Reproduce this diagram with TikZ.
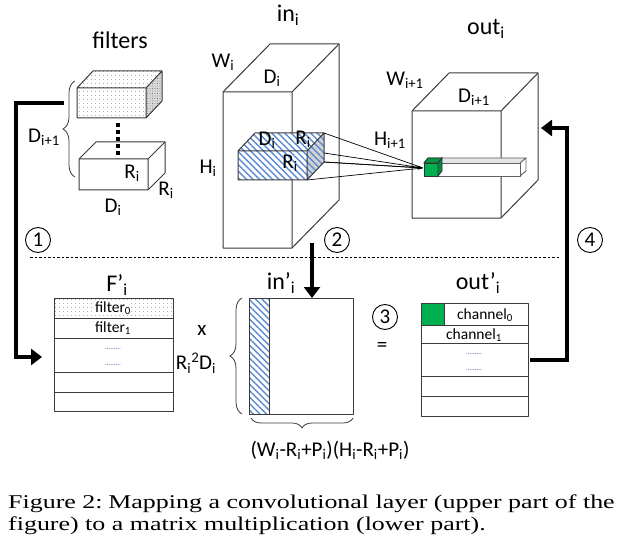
\documentclass[tikz,border=0pt]{standalone}
\usepackage{fontspec}
\setmainfont{Carlito}
\newfontfamily\capfont[FakeStretch=1.33]{Liberation Serif}
\usetikzlibrary{arrows.meta,patterns.meta,decorations.pathreplacing}
\definecolor{hatchblue}{HTML}{5B8BD0}
\definecolor{cubegreen}{HTML}{00B050}
\definecolor{edgecol}{HTML}{3A3A3A}
\definecolor{dotblue}{HTML}{2F4FA8}
\begin{document}
\begin{tikzpicture}[x=1pt,y=-1pt,
  lab/.style={font=\fontsize{21}{21}\selectfont, inner sep=0pt},
  ttl/.style={font=\fontsize{24}{24}\selectfont, inner sep=0pt},
  cell/.style={font=\fontsize{15.5}{15.5}\selectfont, inner sep=0pt},
  dotsnode/.style={font=\fontsize{7}{7}\selectfont, text=dotblue, inner sep=0pt},
  boxline/.style={draw=edgecol, line width=1pt, line join=round},
  hatch/.style={pattern={Lines[angle=-45,distance=4.6pt,line width=1.4pt]}, pattern color=hatchblue},
  dotfill/.style={pattern={Dots[distance=4pt,radius=0.45pt]}, pattern color=black!75},
  bigarrow/.style={line width=4pt, line join=miter, -{Triangle[length=11pt,width=16pt]}},
  circnum/.style={draw, circle, line width=0.9pt, minimum size=25pt, inner sep=0pt, font=\fontsize{21}{21}\selectfont},
  bracestyle/.style={draw=edgecol, line width=0.8pt, decorate},
  capt/.style={font=\capfont\fontsize{19.5}{19.5}\selectfont, inner sep=0pt, anchor=base west}
]
\useasboundingbox (0,0) rectangle (625,551);
\fill[white] (0,0) rectangle (625,551);

% ---------------- filters ----------------
\node[ttl] (tfilters) at (120,40) {filters};
% top dotted box
\fill[white] (77,88) -- (93,71) -- (162,71) -- (162,101) -- (146,118) -- (77,118) -- cycle;
\fill[dotfill] (77,88) rectangle (146,118);
\fill[dotfill] (77,88) -- (93,71) -- (162,71) -- (146,88) -- cycle;
\fill[gray!30] (146,88) -- (162,71) -- (162,101) -- (146,118) -- cycle;
\fill[pattern={Dots[distance=2.5pt,radius=0.45pt]}, pattern color=black!70] (146,88) -- (162,71) -- (162,101) -- (146,118) -- cycle;
\draw[boxline] (77,88) rectangle (146,118) (77,88) -- (93,71) -- (162,71) -- (146,88) (162,71) -- (162,101) -- (146,118);
% bottom box
\draw[boxline, fill=white] (79,159) -- (96,142) -- (165,142) -- (165,173) -- (148,190) -- (79,190) -- cycle;
\draw[boxline] (79,159) -- (148,159) -- (165,142) (148,159) -- (148,190);
% dots between
\coordinate (dtop) at (118,123);
\coordinate (dbot) at (118,158);
\draw[line width=3.2pt, dash pattern=on 4pt off 3pt] (dtop) -- (dbot);
\node[lab] (fr1) at (132,173) {R\textsubscript{i}};
\node[lab] (fr2) at (166,190) {R\textsubscript{i}};
\node[lab] (fd) at (113,207) {D\textsubscript{i}};
% brace
\coordinate (fbb) at (75,177);
\coordinate (fbt) at (75,81);
\draw[bracestyle, decoration={brace, amplitude=12pt}] (fbb) -- (fbt);
\node[lab] (fdi1) at (44,137) {D\textsubscript{i+1}};

% ---------------- in_i ----------------
\node[ttl] (tin) at (288,15) {in\textsubscript{i}};
\draw[boxline, fill=white] (223,92) -- (270,44) -- (339,44) -- (339,200) -- (292,248) -- (223,248) -- cycle;
\draw[boxline] (223,92) -- (292,92) -- (339,44) (292,92) -- (292,248);
\node[lab] (lwi) at (223,62) {W\textsubscript{i}};
\node[lab] (ldi) at (272,78) {D\textsubscript{i}};
\node[lab] (lhi) at (208,168) {H\textsubscript{i}};
% hatched sub-box
\fill[white] (238,151) -- (255,133) -- (324,133) -- (324,162) -- (307,180) -- (238,180) -- cycle;
\fill[hatch] (238,151) rectangle (307,180);
\fill[hatch] (238,151) -- (255,133) -- (324,133) -- (307,151) -- cycle;
\fill[gray!35] (307,151) -- (324,133) -- (324,162) -- (307,180) -- cycle;
\fill[hatch] (307,151) -- (324,133) -- (324,162) -- (307,180) -- cycle;
\draw[boxline] (238,151) rectangle (307,180) (238,151) -- (255,133) -- (324,133) -- (307,151) (324,133) -- (324,162) -- (307,180);
\node[lab] (hd) at (267,140) {D\textsubscript{i}};
\node[lab] (hr1) at (303,139) {R\textsubscript{i}};
\node[lab] (hr2) at (290,163) {R\textsubscript{i}};

% ---------------- out_i ----------------
\node[ttl] (tout) at (486,29) {out\textsubscript{i}};
\draw[boxline, fill=white] (412,111) -- (449,73) -- (538,73) -- (538,180) -- (501,218) -- (412,218) -- cycle;
\draw[boxline] (412,111) -- (501,111) -- (538,73) (501,111) -- (501,218);
\node[lab] (lwo) at (405,80) {W\textsubscript{i+1}};
\node[lab] (ldo) at (474,97) {D\textsubscript{i+1}};
\node[lab] (lho) at (390,140) {H\textsubscript{i+1}};
% bar
\fill[gray!20] (428,158) -- (526,158) -- (520,163) -- (424,163) -- cycle;
\draw[draw=edgecol!80, line width=0.9pt, fill=white] (424,163) rectangle (520,176);
\draw[draw=edgecol!80, line width=0.9pt] (424,163) -- (428,158) -- (526,158) -- (520,163) (526,158) -- (526,171) -- (520,176);
% green cube
\draw[draw=black!80, line width=0.8pt, fill=cubegreen] (424,163) rectangle (438,176);
\draw[draw=black!80, line width=0.8pt, fill=cubegreen!85!black] (424,163) -- (428,158) -- (442,158) -- (438,163) -- cycle;
\draw[draw=black!80, line width=0.8pt, fill=cubegreen!80!black] (438,163) -- (442,158) -- (442,171) -- (438,176) -- cycle;
\coordinate (cubein) at (423,168);
% projection lines
\coordinate (p1) at (324,133);
\coordinate (p2) at (324,153);
\coordinate (p3) at (324,162);
\coordinate (p4) at (307,180);
\draw[line width=0.7pt] (p1) -- (cubein) (p2) -- (cubein) (p3) -- (cubein) (p4) -- (cubein);
\draw[line width=0.7pt, -{Stealth[length=5pt,width=4pt]}] (p3) -- (cubein);

% ---------------- dashed separator and step numbers ----------------
\coordinate (sepl) at (30,257);
\coordinate (sepr) at (560,257);
\draw[line width=0.7pt, dash pattern=on 2.5pt off 2pt] (sepl) -- (sepr);
\node[circnum] (n1) at (38,240) {1};
\node[circnum] (n2) at (337,240) {2};
\node[circnum] (n3) at (385,317) {3};
\node[circnum] (n4) at (590,240) {4};

% ---------------- F'_i matrix ----------------
\node[ttl] (tfp) at (117,285) {F’\textsubscript{i}};
\fill[dotfill] (54,298) rectangle (173,318);
\draw[boxline] (54,298) rectangle (173,411);
\draw[boxline] (54,318) -- (173,318) (54,338) -- (173,338) (54,372) -- (173,372) (54,392) -- (173,392);
\node[cell, fill=white, inner sep=0.5pt] (f0) at (113,308) {filter\textsubscript{0}};
\node[cell] (f1) at (113,328) {filter\textsubscript{1}};
\node[dotsnode] (fd1) at (113,349) {.........};
\node[dotsnode] (fd2) at (113,365) {.........};
\coordinate (fpleft) at (42,357);
\node[lab] (xsym) at (202,330) {x};
\node[lab] (rrd) at (196,363) {R\textsubscript{i}\textsuperscript{2}D\textsubscript{i}};

% ---------------- in'_i matrix ----------------
\node[ttl] (tinp) at (281,283) {in’\textsubscript{i}};
\fill[white] (249,298) rectangle (353,414);
\fill[hatch] (249,298) rectangle (269,414);
\draw[boxline] (249,298) rectangle (353,414) (269,298) -- (269,414);
\coordinate (ibb) at (242,414);
\coordinate (ibt) at (242,298);
\draw[bracestyle, decoration={brace, amplitude=12pt}] (ibb) -- (ibt);
\coordinate (ibr) at (353,418);
\coordinate (ibl) at (251,418);
\draw[bracestyle, decoration={brace, amplitude=10pt}] (ibr) -- (ibl);
\node[lab] (dimlab) at (330,450) {(W\textsubscript{i}-R\textsubscript{i}+P\textsubscript{i})(H\textsubscript{i}-R\textsubscript{i}+P\textsubscript{i})};
\node[lab] (eqsym) at (382,347) {=};

% ---------------- out'_i matrix ----------------
\node[ttl] (toutp) at (478,283) {out’\textsubscript{i}};
\fill[cubegreen] (421,303) rectangle (444,325);
\draw[boxline] (421,303) rectangle (528,416);
\draw[boxline] (444,303) -- (444,325) (421,325) -- (528,325) (421,343) -- (528,343) (421,376) -- (528,376) (421,396) -- (528,396);
\node[cell] (c0) at (485,315) {channel\textsubscript{0}};
\node[cell] (c1) at (474,335) {channel\textsubscript{1}};
\node[dotsnode] (cd1) at (474,354) {.........};
\node[dotsnode] (cd2) at (474,370) {.........};

% ---------------- thick step arrows ----------------
\coordinate (a1s) at (64,103);
\draw[bigarrow] (a1s) -- (16,103) |- (fpleft);
\coordinate (a2s) at (312,243);
\coordinate (a2e) at (312,298);
\draw[bigarrow] (a2s) -- (a2e);
\coordinate (a4s) at (530,360);
\coordinate (outright) at (541,128);
\draw[bigarrow] (a4s) -| (567,128) -- (outright);

% ---------------- caption ----------------
\node[capt] (cap1) at (8,508) {Figure 2:\hspace{0.3em}Mapping a convolutional layer (upper part of the};
\node[capt] (cap2) at (8,530) {figure) to a matrix multiplication (lower part).};
\end{tikzpicture}
\end{document}
